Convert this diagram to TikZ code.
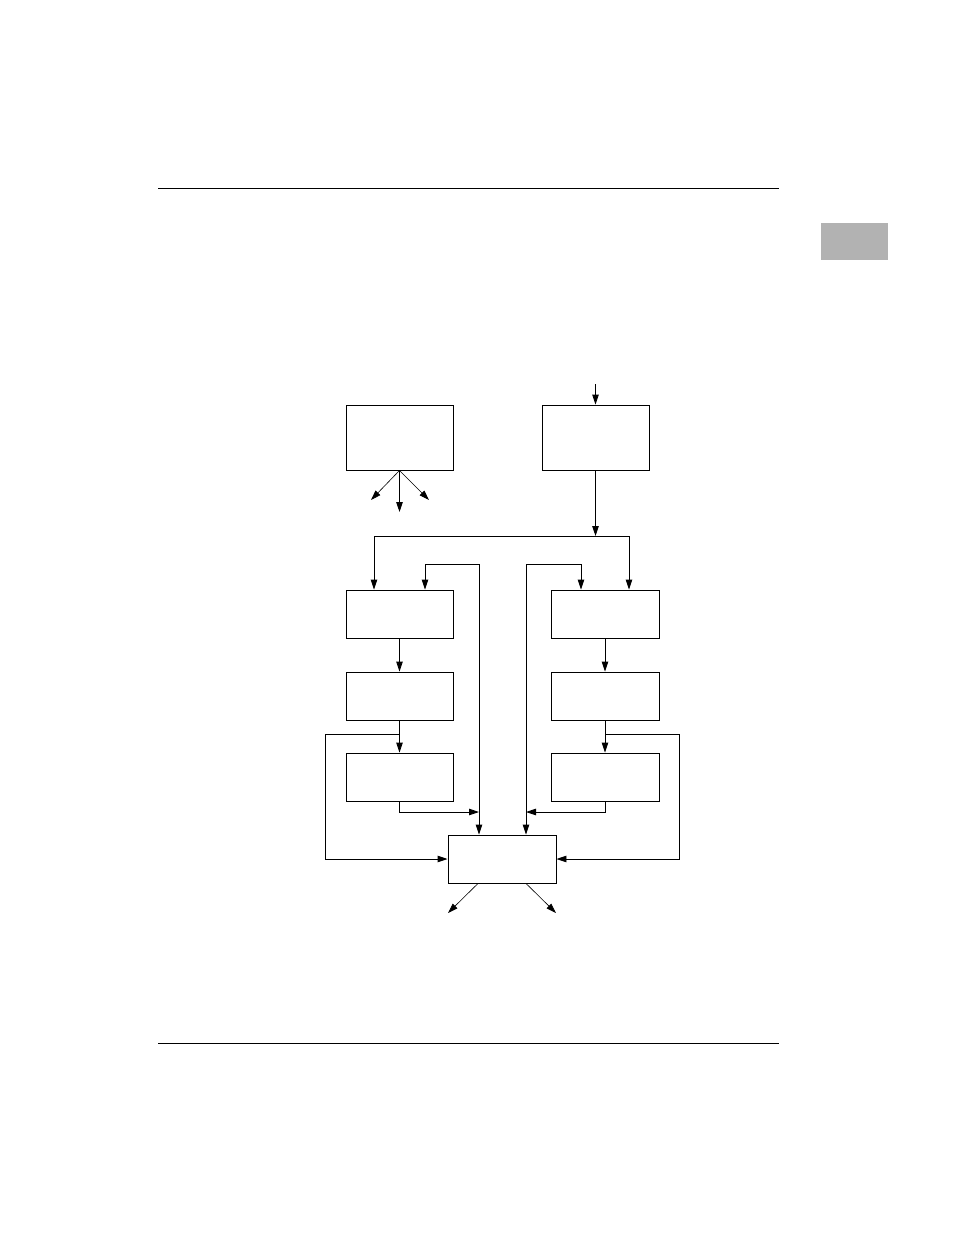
\documentclass[tikz,border=0pt]{standalone}
\usepackage{tikz}
\usetikzlibrary{arrows.meta}
\usetikzlibrary{calc}
\usetikzlibrary{positioning}
\definecolor{tabgray}{gray}{0.70}

\begin{document}
\begin{tikzpicture}[
  x=1pt, y=-1pt, line width=0.9pt,
  > = {Triangle[length=10pt,width=6.5pt]},
  blk/.style = {draw,rectangle,inner sep=0pt,minimum width=107pt,minimum height=48pt},
  tallblk/.style = {blk,minimum height=65pt},
  diag/.style = {->,line width=0.6pt}
  ]
	\useasboundingbox (0,0) rectangle (954,1235);

	% page rules and tab
	\draw (158,188) -- (779,188);
	\draw (158,1043) -- (779,1043);
	\fill[tabgray] (821,223) rectangle (888,260);

	% blocks
	\node[tallblk] (A) at (399.5,437.5) {};
	\node[tallblk] (B) at (595.5,437.5) {};
	\node[blk] (C1) at (399.5,614) {};
	\node[blk] (C2) at (399.5,696) {};
	\node[blk] (C3) at (399.5,777) {};
	\node[blk,minimum width=108pt] (D1) at (605,614) {};
	\node[blk,minimum width=108pt] (D2) at (605,696) {};
	\node[blk,minimum width=108pt] (D3) at (605,777) {};
	\node[blk,minimum width=108pt] (E) at (502,859) {};

	% free ends and junctions
	\coordinate (in) at (595.5,384);
	\coordinate (a1) at (371,500);
	\coordinate (a2) at (399.5,512);
	\coordinate (a3) at (429,500);
	\coordinate (split) at (595.5,536);
	\coordinate (splitL) at (374,536);
	\coordinate (splitR) at (629,536);
	\coordinate (fbL) at (425,564);
	\coordinate (busL) at (479,564);
	\coordinate (fbR) at (581,564);
	\coordinate (busR) at (526,564);
	\coordinate (jL) at (479,812);
	\coordinate (jR) at (526,812);
	\coordinate (loopL) at (325,734);
	\coordinate (loopR) at (679,734);
	\coordinate (e1) at (448,913);
	\coordinate (e2) at (556,913);

	% input and outputs of the top blocks
	\draw[->] (in) -- (B.north);
	\draw[diag] (A.south) -- (a1);
	\draw[->] (A.south) -- (a2);
	\draw[diag] (A.south) -- (a3);

	\draw[->] (B.south) -- (split);
	\draw[->] (splitR) -- (splitL) -- (splitL |- C1.north);
	\draw[->] (split) -- (splitR) -- (splitR |- D1.north);

	% feedback buses
	\draw[<->] (fbL |- C1.north) -- (fbL) -- (busL) -- (busL |- E.north);
	\draw[<->] (fbR |- D1.north) -- (fbR) -- (busR) -- (busR |- E.north);

	% left chain
	\draw[->] (C1) -- (C2);
	\draw[->] (C2) -- (C3);
	\draw[->] (C3.south) |- (jL);
	\draw[->] (C2.south |- loopL) -- (loopL) |- (E.west);

	% right chain
	\draw[->] (D1) -- (D2);
	\draw[->] (D2) -- (D3);
	\draw[->] (D3.south) |- (jR);
	\draw[->] (D2.south |- loopR) -- (loopR) |- (E.east);

	% outputs
	\draw[diag] ([xshift=-24pt]E.south) -- (e1);
	\draw[diag] ([xshift=24pt]E.south) -- (e2);

\end{tikzpicture}
\end{document}
